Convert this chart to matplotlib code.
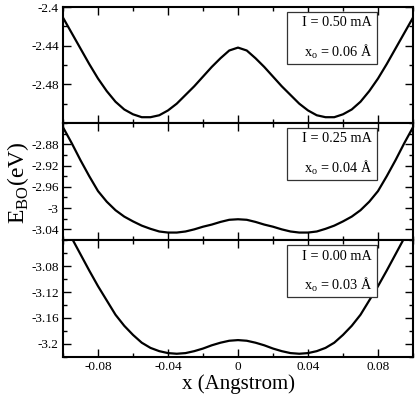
import numpy as np
import matplotlib
matplotlib.use("Agg")
from matplotlib import pyplot as plt
from matplotlib.ticker import MultipleLocator, FixedLocator, FuncFormatter
from matplotlib.patches import Rectangle

plt.rcParams['font.family'] = ['Liberation Serif', 'DejaVu Serif']
plt.rcParams['mathtext.fontset'] = 'custom'
plt.rcParams['mathtext.rm'] = 'Liberation Serif'
plt.rcParams['axes.unicode_minus'] = False

# x positions (Angstrom), same for all three curves
x = np.array([-0.100, -0.095, -0.090, -0.085, -0.080, -0.075, -0.070, -0.065,
              -0.060, -0.055, -0.050, -0.045, -0.040, -0.035, -0.030, -0.025,
              -0.020, -0.015, -0.010, -0.005, 0.000, 0.005, 0.010, 0.015,
              0.020, 0.025, 0.030, 0.035, 0.040, 0.045, 0.050, 0.055, 0.060,
              0.065, 0.070, 0.075, 0.080, 0.085, 0.090, 0.095, 0.100])

# I = 0.50 mA
e_050 = [-2.411, -2.427, -2.443, -2.459, -2.474, -2.487, -2.498, -2.506,
         -2.511, -2.514, -2.514, -2.512, -2.507, -2.500, -2.491, -2.482,
         -2.472, -2.462, -2.453, -2.445, -2.442, -2.445, -2.453, -2.462,
         -2.472, -2.482, -2.491, -2.500, -2.507, -2.512, -2.514, -2.514,
         -2.511, -2.506, -2.498, -2.487, -2.474, -2.459, -2.443, -2.427, -2.411]

# I = 0.25 mA
e_025 = [-2.848, -2.878, -2.910, -2.940, -2.968, -2.988, -3.004, -3.016,
         -3.025, -3.033, -3.039, -3.044, -3.046, -3.046, -3.044, -3.040,
         -3.035, -3.031, -3.026, -3.022, -3.021, -3.022, -3.026, -3.031,
         -3.035, -3.040, -3.044, -3.046, -3.046, -3.044, -3.039, -3.033,
         -3.025, -3.016, -3.004, -2.988, -2.968, -2.940, -2.910, -2.878, -2.848]

# I = 0.00 mA
e_000 = [-3.012, -3.037, -3.062, -3.087, -3.111, -3.133, -3.155, -3.172,
         -3.186, -3.198, -3.206, -3.211, -3.214, -3.215, -3.214, -3.211,
         -3.207, -3.202, -3.198, -3.195, -3.194, -3.195, -3.198, -3.202,
         -3.207, -3.211, -3.214, -3.215, -3.214, -3.211, -3.206, -3.198,
         -3.186, -3.172, -3.155, -3.133, -3.111, -3.087, -3.062, -3.037, -3.012]

curves = [e_050, e_025, e_000]
currents = ["I = 0.50 mA", "I = 0.25 mA", "I = 0.00 mA"]
x0_labels = ["0.06", "0.04", "0.03"]
ylims = [(-2.52, -2.40), (-3.06, -2.84), (-3.22, -3.04)]
yticks = [[-2.4, -2.44, -2.48], [-2.88, -2.92, -2.96, -3.0, -3.04],
          [-3.08, -3.12, -3.16, -3.2]]
xticks = [-0.08, -0.04, 0, 0.04, 0.08]

fig = plt.figure(figsize=(4.15, 3.97), dpi=100)
W, H = 415.0, 397.0
left, right = 63, 413
tops = [7, 123, 240, 357]

fmt = FuncFormatter(lambda v, p: "%g" % round(v, 4))

for i in range(3):
    ax = fig.add_axes([left / W, 1 - tops[i + 1] / H, (right - left) / W,
                       (tops[i + 1] - tops[i]) / H])
    ax.plot(x, curves[i], color='black', lw=1.6)
    ax.set_xlim(-0.1, 0.1)
    ax.set_ylim(*ylims[i])
    ax.xaxis.set_major_locator(FixedLocator(xticks))
    ax.xaxis.set_minor_locator(MultipleLocator(0.02))
    ax.yaxis.set_major_locator(FixedLocator(yticks[i]))
    ax.yaxis.set_minor_locator(MultipleLocator(0.02))
    ax.xaxis.set_major_formatter(fmt)
    ax.yaxis.set_major_formatter(fmt)
    ax.tick_params(which='both', direction='in', top=True, right=True,
                   labelsize=9.5, width=1.0, pad=3)
    ax.tick_params(which='major', length=6)
    ax.tick_params(which='minor', length=3)
    if i < 2:
        ax.tick_params(labelbottom=False)
    for s in ax.spines.values():
        s.set_linewidth(1.5)

    # legend box
    ph = tops[i + 1] - tops[i]
    bx0 = (287 - left) / (right - left)
    bx1 = (377 - left) / (right - left)
    by1 = 1 - 5.0 / ph
    by0 = 1 - 57.0 / ph
    ax.add_patch(Rectangle((bx0, by0), bx1 - bx0, by1 - by0,
                           transform=ax.transAxes, facecolor='white',
                           edgecolor='#333333', lw=0.9, zorder=5))
    tx = (372 - left) / (right - left)
    ax.text(tx, 1 - 16.0 / ph, currents[i], transform=ax.transAxes,
            ha='right', va='center', fontsize=10.3, zorder=6)
    ax.text(tx, 1 - 45.0 / ph, r"x$_{\rm o}$ = " + x0_labels[i] + " Å",
            transform=ax.transAxes, ha='right', va='center', fontsize=10.3,
            zorder=6)
    if i == 2:
        ax.set_xlabel("x (Angstrom)", fontsize=15, labelpad=1)

fig.text(18 / W, 1 - 183 / H, r"E$_{\rm BO}$(eV)", rotation=90,
         ha='center', va='center', fontsize=17)

fig.savefig("out.png", dpi=100)
